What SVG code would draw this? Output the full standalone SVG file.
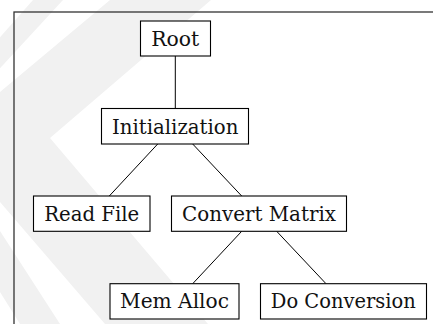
<svg xmlns="http://www.w3.org/2000/svg" width="433" height="324" viewBox="0 0 433 324">
  <style>
    .box { fill: #ffffff; stroke: #000000; stroke-width: 1.1; }
    .lbl { font-family: "DejaVu Serif", "Liberation Serif", serif; font-size: 19.5px; fill: #111111; text-anchor: middle; }
    .edge { stroke: #000000; stroke-width: 1; fill: none; }
    .wm { fill: #f1f1f1; }
  </style>
  <rect x="0" y="0" width="433" height="324" fill="#ffffff"/>
  <g id="watermark">
    <polygon class="wm" points="110,0 211,0 50,138 208,324 105,324 -55,138"/>
    <polygon class="wm" points="33,0 63,0 -20,90 -20,60"/>
    <polygon class="wm" points="-20,200 60,324 20,324 -20,260"/>
  </g>
  <rect id="frame" x="14" y="12" width="440" height="330" fill="none" stroke="#333333" stroke-width="1.3"/>
  <g id="connectors">
    <line class="edge" x1="175.3" y1="56" x2="175.3" y2="108.5"/>
    <line class="edge" x1="157.7" y1="144" x2="109.3" y2="196"/>
    <line class="edge" x1="192.7" y1="144" x2="241.7" y2="196"/>
    <line class="edge" x1="241.7" y1="231.3" x2="192.7" y2="283.7"/>
    <line class="edge" x1="276.7" y1="231.3" x2="326" y2="283.7"/>
  </g>
  <g id="root">
    <rect class="box" x="140.5" y="21" width="70" height="35"/>
    <text class="lbl" x="175.3" y="45.7" textLength="48" lengthAdjust="spacingAndGlyphs">Root</text>
  </g>
  <g id="initialization">
    <rect class="box" x="101.5" y="108.5" width="147" height="35.5"/>
    <text class="lbl" x="175.2" y="134" textLength="126.5" lengthAdjust="spacingAndGlyphs">Initialization</text>
  </g>
  <g id="read-file">
    <rect class="box" x="33.5" y="196" width="116.5" height="35.3"/>
    <text class="lbl" x="91.7" y="220.7" textLength="95" lengthAdjust="spacingAndGlyphs">Read File</text>
  </g>
  <g id="convert-matrix">
    <rect class="box" x="171.5" y="196" width="175" height="35.3"/>
    <text class="lbl" x="259" y="220.7" textLength="154" lengthAdjust="spacingAndGlyphs">Convert Matrix</text>
  </g>
  <g id="mem-alloc">
    <rect class="box" x="110" y="283.7" width="129" height="35.3"/>
    <text class="lbl" x="174.5" y="308.3" textLength="109" lengthAdjust="spacingAndGlyphs">Mem Alloc</text>
  </g>
  <g id="do-conversion">
    <rect class="box" x="260.5" y="283.7" width="166" height="35.3"/>
    <text class="lbl" x="343.3" y="308.3" textLength="145" lengthAdjust="spacingAndGlyphs">Do Conversion</text>
  </g>
</svg>
